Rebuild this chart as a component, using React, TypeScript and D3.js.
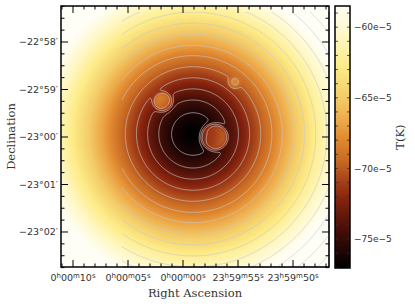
import { useMemo } from 'react';
import * as d3 from 'd3';

const W = 415;
const H = 304;
const PLOT = { left: 61, top: 6, right: 329, bottom: 267 };
const CBAR = { left: 335, right: 350, top: 6, bottom: 268 };

// axis extents: RA in seconds from 0h00m00s, Dec in arcmin from -23°00'
const RA_DOMAIN = [11.09, -13.27];
const DEC_DOMAIN = [-2.737, 2.758];

// radial temperature profile around the main minimum (radius in arcsec, T in 1e-5 K)
const PROFILE_R = [0, 27, 43, 57, 71, 85, 99, 112, 126, 140, 154, 168, 183, 198, 213, 229, 244, 259, 290];
const PROFILE_T = [-77.3, -76, -74.5, -73, -71.5, -70, -68.5, -67, -65.5, -64, -62.5, -61, -59.5, -58, -56.5, -55, -53.5, -52, -49];
const CENTER_RA = -0.91;
const CENTER_DEC = 0.063;

// compact warm sources on top of the minimum
const BLOB_RA = [-2.82, 1.82, -4.64];
const BLOB_DEC = [0.0, 0.737, 1.137];
const BLOB_R = [16.4, 11.4, 6.3];
const BLOB_AMP = [5, 4, 2];

const CONTOUR_LEVELS = [-76, -74.5, -73, -71.5, -70, -68.5, -67, -65.5, -64, -62.5, -61, -59.5, -58, -56.5, -55, -53.5, -52, -50.5];

const RA_TICKS = [10, 5, 0, -5, -10];
const RA_LABELS = [
  ['0', 'h', '00', 'm', '10', 's'],
  ['0', 'h', '00', 'm', '05', 's'],
  ['0', 'h', '00', 'm', '00', 's'],
  ['23', 'h', '59', 'm', '55', 's'],
  ['23', 'h', '59', 'm', '50', 's'],
];
const DEC_TICKS = [2, 1, 0, -1, -2];
const DEC_LABELS = ['−22°58′', '−22°59′', '−23°00′', '−23°01′', '−23°02′'];

const CBAR_DOMAIN = [-77.05, -58.5];
const CBAR_TICKS = [-75, -70, -65, -60];
const CBAR_LABELS = ['−75e−5', '−70e−5', '−65e−5', '−60e−5'];

const CMAP_STOPS = [0, 0.05, 0.155, 0.26, 0.33, 0.41, 0.49, 0.56, 0.65, 0.77, 0.895, 1];
const CMAP_COLORS = ['#000000', '#180404', '#4a1008', '#84220e', '#a44018', '#c86a24', '#e08830', '#eda848', '#f3cc68', '#fdec88', '#fff8c8', '#fffef6'];

const ARCSEC_PER_RA_S = 15 * Math.cos((23 * Math.PI) / 180);

function App() {
  const pw = PLOT.right - PLOT.left;
  const ph = PLOT.bottom - PLOT.top;

  const x = d3.scaleLinear().domain(RA_DOMAIN).range([PLOT.left, PLOT.right]);
  const y = d3.scaleLinear().domain(DEC_DOMAIN).range([PLOT.bottom, PLOT.top]);
  const profile = d3.scaleLinear().domain(PROFILE_R).range(PROFILE_T);
  const cmap = d3
    .scaleLinear<string>()
    .domain(CMAP_STOPS.map((s) => CBAR_DOMAIN[0] + s * (CBAR_DOMAIN[1] - CBAR_DOMAIN[0])))
    .range(CMAP_COLORS)
    .interpolate(d3.interpolateRgb)
    .clamp(true);
  const cy = d3.scaleLinear().domain(CBAR_DOMAIN).range([CBAR.bottom, CBAR.top]);

  const { href, contourPaths, cbarHref } = useMemo(() => {
    const values = new Float64Array(pw * ph);
    for (let j = 0; j < ph; j++) {
      const dec = y.invert(PLOT.top + j + 0.5);
      for (let i = 0; i < pw; i++) {
        const ra = x.invert(PLOT.left + i + 0.5);
        const dx = (ra - CENTER_RA) * ARCSEC_PER_RA_S;
        const dy = (dec - CENTER_DEC) * 60;
        let t = profile(Math.hypot(dx, dy));
        for (let k = 0; k < BLOB_RA.length; k++) {
          const bx = (ra - BLOB_RA[k]) * ARCSEC_PER_RA_S;
          const by = (dec - BLOB_DEC[k]) * 60;
          const d = Math.hypot(bx, by);
          t += BLOB_AMP[k] / (1 + Math.exp((d - BLOB_R[k]) / 1.4));
        }
        values[j * pw + i] = t;
      }
    }

    const canvas = document.createElement('canvas');
    canvas.width = pw;
    canvas.height = ph;
    const ctx = canvas.getContext('2d')!;
    const img = ctx.createImageData(pw, ph);
    for (let n = 0; n < values.length; n++) {
      const c = d3.rgb(cmap(values[n]));
      img.data[n * 4] = c.r;
      img.data[n * 4 + 1] = c.g;
      img.data[n * 4 + 2] = c.b;
      img.data[n * 4 + 3] = 255;
    }
    ctx.putImageData(img, 0, 0);

    const cb = document.createElement('canvas');
    const cbh = CBAR.bottom - CBAR.top;
    cb.width = 1;
    cb.height = cbh;
    const cctx = cb.getContext('2d')!;
    for (let j = 0; j < cbh; j++) {
      cctx.fillStyle = cmap(cy.invert(CBAR.top + j + 0.5));
      cctx.fillRect(0, j, 1, 1);
    }

    const contours = d3.contours().size([pw, ph]).thresholds(CONTOUR_LEVELS)(Array.from(values));
    const path = d3.geoPath();
    return {
      href: canvas.toDataURL(),
      cbarHref: cb.toDataURL(),
      contourPaths: contours.map((c) => path(c) || ''),
    };
  }, []);

  const raMinor = d3.range(-13, 12, 1);
  const decMinor = d3.range(-2.75, 2.76, 0.25);
  const cbarMinor = d3.range(-77, -58, 1);

  return (
    <svg width={W} height={H} style={{ position: 'absolute', left: 0, top: 0, background: '#fff' }}>
      <defs>
        <clipPath id="plot-clip">
          <rect x={PLOT.left} y={PLOT.top} width={pw} height={ph} />
        </clipPath>
      </defs>
      <image href={href} x={PLOT.left} y={PLOT.top} width={pw} height={ph} preserveAspectRatio="none" />
      <g clipPath="url(#plot-clip)" transform={`translate(${PLOT.left},${PLOT.top})`}>
        {contourPaths.map((d, i) => (
          <path key={i} d={d} fill="none" stroke="#c8c8c8" strokeOpacity={0.85} strokeWidth={0.8} />
        ))}
      </g>

      {/* ticks, inward on all four sides */}
      <g stroke="#000" strokeWidth={1}>
        {raMinor.map((v) => {
          const major = v % 5 === 0;
          const len = major ? 7 : 3.5;
          return (
            <g key={`ra${v}`}>
              <line x1={x(v)} x2={x(v)} y1={PLOT.bottom} y2={PLOT.bottom - len} />
              <line x1={x(v)} x2={x(v)} y1={PLOT.top} y2={PLOT.top + len} />
            </g>
          );
        })}
        {decMinor.map((v) => {
          const major = Math.abs(v - Math.round(v)) < 1e-6;
          const len = major ? 7 : 3.5;
          return (
            <g key={`dec${v}`}>
              <line x1={PLOT.left} x2={PLOT.left + len} y1={y(v)} y2={y(v)} />
              <line x1={PLOT.right} x2={PLOT.right - len} y1={y(v)} y2={y(v)} />
            </g>
          );
        })}
      </g>
      <rect x={PLOT.left} y={PLOT.top} width={pw} height={ph} fill="none" stroke="#000" strokeWidth={1.5} />

      {/* tick labels */}
      <g fontFamily="DejaVu Sans" fill="#333">
        {DEC_TICKS.map((v, i) => (
          <text key={v} x={PLOT.left - 3} y={y(v)} dy="0.35em" textAnchor="end" fontSize={9.5}>
            {DEC_LABELS[i]}
          </text>
        ))}
        {RA_TICKS.map((v, i) => {
          const p = RA_LABELS[i];
          return (
            <text key={v} x={x(v)} y={281} textAnchor="middle" fontSize={9.5}>
              <tspan>{p[0]}</tspan>
              <tspan dy={-3.5} fontSize={7}>{p[1]}</tspan>
              <tspan dy={3.5}>{p[2]}</tspan>
              <tspan dy={-3.5} fontSize={7}>{p[3]}</tspan>
              <tspan dy={3.5}>{p[4]}</tspan>
              <tspan dy={-3.5} fontSize={7}>{p[5]}</tspan>
            </text>
          );
        })}
      </g>

      {/* colorbar */}
      <image
        href={cbarHref}
        x={CBAR.left}
        y={CBAR.top}
        width={CBAR.right - CBAR.left}
        height={CBAR.bottom - CBAR.top}
        preserveAspectRatio="none"
      />
      <g stroke="#333" strokeWidth={0.8}>
        {cbarMinor.map((v) => (
          <g key={`cb${v}`}>
            <line x1={CBAR.left} x2={CBAR.left + 3} y1={cy(v)} y2={cy(v)} />
            <line x1={CBAR.right} x2={CBAR.right - 3} y1={cy(v)} y2={cy(v)} />
          </g>
        ))}
      </g>
      <rect
        x={CBAR.left}
        y={CBAR.top}
        width={CBAR.right - CBAR.left}
        height={CBAR.bottom - CBAR.top}
        fill="none"
        stroke="#000"
        strokeWidth={1.5}
      />
      <g fontFamily="DejaVu Sans" fill="#333" fontSize={9}>
        {CBAR_TICKS.map((v, i) => (
          <text key={v} x={CBAR.right + 4} y={cy(v)} dy="0.35em">
            {CBAR_LABELS[i]}
          </text>
        ))}
      </g>

      {/* axis titles */}
      <g fontFamily="DejaVu Serif" fontSize={11.5} fill="#333">
        <text x={(PLOT.left + PLOT.right) / 2} y={297} textAnchor="middle">
          Right Ascension
        </text>
        <text transform={`translate(15,${(PLOT.top + PLOT.bottom) / 2}) rotate(-90)`} textAnchor="middle">
          Declination
        </text>
        <text transform={`translate(404,${(CBAR.top + CBAR.bottom) / 2}) rotate(-90)`} textAnchor="middle">
          T(K)
        </text>
      </g>
    </svg>
  );
}

export default App;
